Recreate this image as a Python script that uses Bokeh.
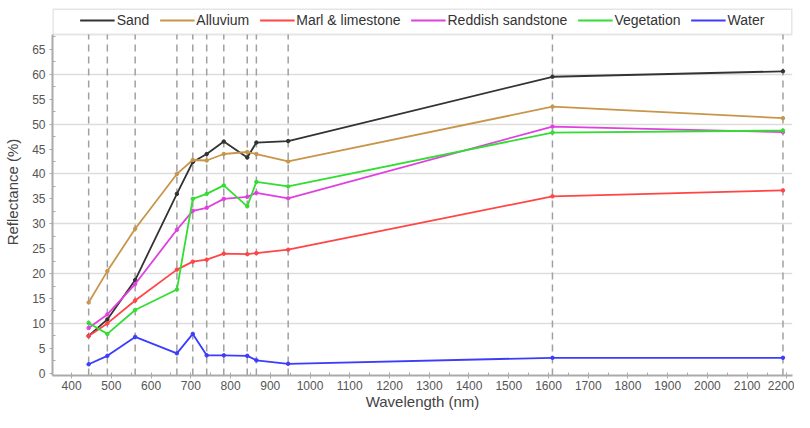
from bokeh.plotting import figure
from bokeh.models import (Range1d, FixedTicker, BoxAnnotation, Legend, LegendItem)
from bokeh.embed import file_html
from bokeh.resources import INLINE

wavelength = [443, 490, 560, 665, 705, 740, 783, 842, 865, 945, 1610, 2190]
sand = [7.5, 10.8, 18.7, 36.0, 42.4, 44.0, 46.5, 43.3, 46.3, 46.6, 59.5, 60.6]
alluvium = [14.2, 20.5, 29.0, 40.0, 42.8, 42.7, 44.0, 44.4, 44.0, 42.5, 53.5, 51.2]
marl = [7.5, 10.0, 14.6, 20.8, 22.4, 22.8, 24.0, 23.9, 24.1, 24.8, 35.5, 36.7]
reddish = [9.1, 11.8, 17.9, 28.8, 32.6, 33.2, 35.0, 35.4, 36.2, 35.1, 49.5, 48.4]
vegetation = [10.1, 7.9, 12.7, 16.8, 35.0, 36.0, 37.7, 33.5, 38.4, 37.5, 48.3, 48.7]
water = [1.8, 3.5, 7.3, 4.0, 7.9, 3.6, 3.6, 3.5, 2.6, 1.9, 3.1, 3.1]

names = ["Sand", "Alluvium", "Marl & limestone", "Reddish sandstone", "Vegetation", "Water"]
series = [sand, alluvium, marl, reddish, vegetation, water]
colors = ["#333333", "#c8964b", "#ff4545", "#e040e0", "#33dd33", "#3c3cff"]

x_ticks = list(range(400, 2201, 100))
y_ticks = list(range(0, 66, 5))

FONT = "Liberation Sans"
Y0, Y1 = -0.45, 73.2
BOX_BOTTOM = 68.0

p = figure(width=794, height=412, output_backend="svg", toolbar_location=None,
           x_range=Range1d(352, 2214), y_range=Range1d(Y0, Y1),
           min_border_left=52, min_border_right=2, min_border_top=8, min_border_bottom=30)
p.outline_line_color = None
p.background_fill_color = "white"
p.border_fill_color = "white"

# grid
p.xgrid.grid_line_color = None
p.ygrid.ticker = FixedTicker(ticks=list(range(10, 61, 10)))
p.ygrid.grid_line_color = "#dddddd"
p.ygrid.grid_line_width = 1.5

# dashed band lines
p.segment(x0=wavelength, x1=wavelength, y0=[Y0] * len(wavelength), y1=[BOX_BOTTOM] * len(wavelength),
          line_color="#a0a0a0", line_width=1.5, line_dash="7 5")

# axes
for ax in (p.xaxis[0], p.yaxis[0]):
    ax.axis_line_color = "#aaaaaa"
    ax.axis_line_width = 2
    ax.major_tick_line_color = "#aaaaaa"
    ax.minor_tick_line_color = "#aaaaaa"
    ax.major_label_text_font = FONT
    ax.major_label_text_font_size = "12px"
    ax.major_label_text_color = "#555555"
    ax.axis_label_text_font = FONT
    ax.axis_label_text_font_size = "15px"
    ax.axis_label_text_font_style = "normal"
    ax.axis_label_text_color = "#444444"
    ax.major_tick_in = 0
    ax.major_tick_out = 3
    ax.minor_tick_in = 3
    ax.minor_tick_out = 0

p.xaxis.ticker = FixedTicker(ticks=x_ticks, minor_ticks=list(range(350, 2251, 50)))
p.yaxis.ticker = FixedTicker(ticks=y_ticks, minor_ticks=[v + 2.5 for v in range(0, 66, 5)])
p.yaxis.bounds = (Y0, BOX_BOTTOM)
p.xaxis.axis_label = "Wavelength (nm)"
p.yaxis.axis_label = "Reflectance (%)"
p.xaxis.axis_label_standoff = 0
p.yaxis.axis_label_standoff = 8
p.xaxis.major_label_standoff = 2
p.yaxis.major_label_standoff = 4

# legend box
p.add_layout(BoxAnnotation(left=353, right=2213, bottom=BOX_BOTTOM, top=Y1 - 0.1,
                           fill_color=None, line_color="#aaaaaa", line_width=2, level="underlay"))

items = []
for name, ys, c in zip(names, series, colors):
    r = p.line(wavelength, ys, line_color=c, line_width=1.8)
    p.scatter(wavelength, ys, size=3.5, color=c)
    items.append(LegendItem(label=name, renderers=[r]))

legend = Legend(items=items, orientation="horizontal", location="top_center",
                border_line_color=None, background_fill_alpha=0,
                label_text_font=FONT, label_text_font_size="14px", label_text_color="#333333",
                glyph_width=35, glyph_height=14, label_standoff=2, spacing=10,
                padding=2, margin=4, label_height=16)
p.add_layout(legend)

open("out.html", "w").write(file_html(p, INLINE))
